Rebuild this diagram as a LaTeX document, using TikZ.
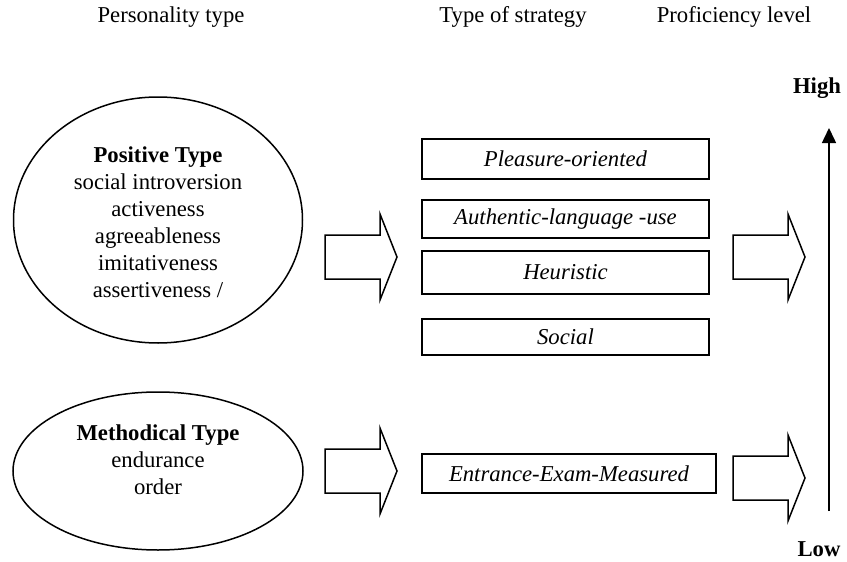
\documentclass[tikz,border=0pt]{standalone}
\usepackage{fontspec}
\setmainfont{Liberation Serif}
\usetikzlibrary{shapes.geometric,arrows.meta}
\begin{document}
\begin{tikzpicture}[x=1pt,y=-1pt,
  txt/.style={font=\fontsize{22.7}{27}\selectfont, inner sep=0pt, align=center},
  txtb/.style={font=\fontsize{22.7}{27}\selectfont\bfseries, inner sep=0pt, align=center},
  stratbox/.style={draw, line width=1.5pt, inner sep=0pt, font=\fontsize{22.7}{27}\selectfont\itshape},
  persell/.style={draw, ellipse, line width=1.5pt, inner sep=0pt},
  blk/.style={draw, line width=1.5pt, line join=miter},
  pics/blockarrow/.style={code={\draw[blk] (0,-22) -- (55,-22) -- (55,-43) -- (72,0) -- (55,43) -- (55,22) -- (0,22) -- cycle;}}]
\useasboundingbox (0,0) rectangle (847,562);

% headers
\node[txt] (h1) at (171,17) {Personality type};
\node[txt] (h2) at (513,17) {Type of strategy};
\node[txt] (h3) at (734,17) {Proficiency level};

% personality ellipses
\node[persell, minimum width=289pt, minimum height=246pt] (e1) at (158,220) {};
\node[txt] (t1) at (158,222) {\textbf{Positive Type}\\social introversion\\activeness\\agreeableness\\imitativeness\\assertiveness /};
\node[persell, minimum width=290pt, minimum height=158pt] (e2) at (158,471) {};
\node[txt] (t2) at (158,460) {\textbf{Methodical Type}\\endurance\\order};

% strategy boxes
\node[stratbox, minimum width=287pt, minimum height=40pt] (s1) at (565.5,159) {Pleasure-oriented};
\node[stratbox, minimum width=287pt, minimum height=38pt] (s2) at (565.5,219) {Authentic-language -use};
\node[stratbox, minimum width=287pt, minimum height=43pt] (s3) at (565.5,272.5) {Heuristic};
\node[stratbox, minimum width=287pt, minimum height=36pt] (s4) at (565.5,337) {Social};
\node[stratbox, minimum width=294pt, minimum height=39pt] (s5) at (569,473.5) {Entrance-Exam-Measured};

% block arrows
\pic (a1) at (325,257) {blockarrow};
\pic (a2) at (733,257) {blockarrow};
\pic (a3) at (325,471) {blockarrow};
\pic (a4) at (733,478) {blockarrow};

% proficiency axis
\coordinate (lo) at (829,511);
\coordinate (hi) at (829,128);
\draw[line width=1.5pt, -{Triangle[length=15pt,width=14pt]}] (lo) -- (hi);
\node[txtb] (high) at (817,88) {High};
\node[txtb] (low) at (819,549) {Low};
\end{tikzpicture}
\end{document}
